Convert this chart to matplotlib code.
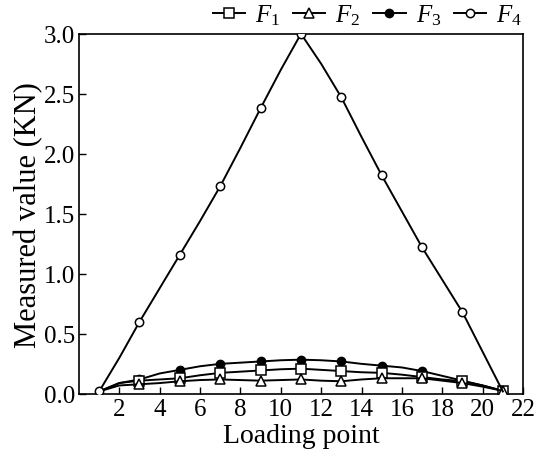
import numpy as np
import matplotlib
matplotlib.use("Agg")
import matplotlib.pyplot as plt

plt.rcParams['font.family'] = ['Liberation Serif', 'DejaVu Serif']
plt.rcParams['mathtext.fontset'] = 'custom'
plt.rcParams['mathtext.rm'] = 'Liberation Serif'
plt.rcParams['mathtext.it'] = 'Liberation Serif:italic'

# loading points 1..21, markers on odd points
points = np.arange(1, 22)
f1 = [0.02, 0.09, 0.11, 0.12, 0.13, 0.155, 0.175, 0.185, 0.195, 0.205, 0.21,
      0.2, 0.19, 0.18, 0.175, 0.16, 0.14, 0.12, 0.105, 0.07, 0.025]
f2 = [0.02, 0.07, 0.08, 0.09, 0.105, 0.115, 0.12, 0.115, 0.11, 0.115, 0.12,
      0.11, 0.105, 0.12, 0.13, 0.13, 0.13, 0.11, 0.09, 0.06, 0.025]
f3 = [0.02, 0.09, 0.12, 0.17, 0.2, 0.23, 0.25, 0.26, 0.27, 0.28, 0.285,
      0.28, 0.27, 0.25, 0.235, 0.22, 0.19, 0.15, 0.11, 0.07, 0.025]
f4 = [0.02, 0.3, 0.6, 0.88, 1.16, 1.44, 1.73, 2.05, 2.38, 2.7, 3.0,
      2.75, 2.47, 2.14, 1.82, 1.52, 1.22, 0.95, 0.68, 0.35, 0.02]
labels = [r'$F_{\mathit{1}}$', r'$F_{\mathit{2}}$', r'$F_{\mathit{3}}$', r'$F_{\mathit{4}}$']

fig = plt.figure(figsize=(5.37, 4.64), dpi=100)
ax = fig.add_axes([0.147, 0.149, 0.827, 0.776])

lw = 1.4
small = slice(2, None, 2)
h1, = ax.plot(points, f1, '-s', color='k', mfc='white', mec='k', ms=6.5, mew=1.1,
              lw=lw, markevery=small, zorder=3, label=labels[0])
h2, = ax.plot(points, f2, '-^', color='k', mfc='white', mec='k', ms=7.5, mew=1.1,
              lw=lw, markevery=small, zorder=4, label=labels[1])
h3, = ax.plot(points, f3, '-o', color='k', mfc='k', mec='k', ms=6,
              lw=lw, markevery=small, zorder=2, label=labels[2])
h4, = ax.plot(points, f4, '-o', color='k', mfc='white', mec='k', ms=6, mew=1.1,
              lw=lw, markevery=slice(0, 20, 2), zorder=5, label=labels[3])

ax.set_xlim(0, 22)
ax.set_ylim(0, 3.0)
ax.set_xticks(np.arange(2, 23, 2))
ax.set_yticks(np.arange(0, 3.01, 0.5))
ax.set_yticklabels([f'{v:.1f}' for v in np.arange(0, 3.01, 0.5)])
ax.tick_params(direction='in', length=5, width=1, labelsize=18, pad=3)
for s in ax.spines.values():
    s.set_linewidth(1.2)

ax.set_xlabel('Loading point', fontsize=20, labelpad=2)
ax.set_ylabel('Measured value (KN)', fontsize=22, labelpad=0)

fig.legend(handles=[h1, h2, h3, h4], loc='upper right', bbox_to_anchor=(1.0, 1.025),
           ncol=4, frameon=False, fontsize=18, handlelength=1.3, handletextpad=0.4,
           columnspacing=0.5, borderaxespad=0.2)

fig.savefig('out.png', dpi=100)
